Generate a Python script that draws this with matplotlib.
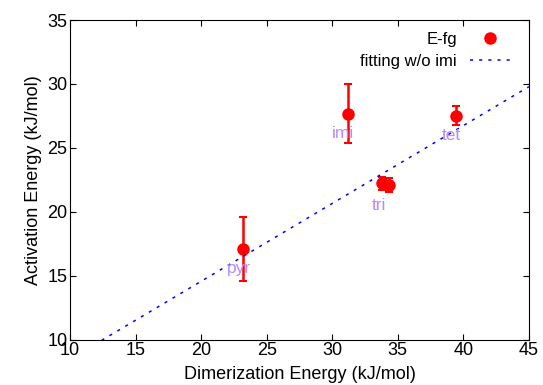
import numpy as np
import matplotlib.pyplot as plt

plt.rcParams['font.family'] = ['Liberation Sans', 'DejaVu Sans']

# measured points (kJ/mol)
dimer = [23.17, 31.2, 33.78, 34.33, 39.42]
activ = [17.09, 27.68, 22.23, 22.07, 27.52]
err = [2.5, 2.33, 0.5, 0.55, 0.76]

names = ['pyr', 'imi', 'tri', 'tet']
name_x = [22.85, 30.8, 33.55, 39.05]
name_y = [15.55, 26.15, 20.45, 25.95]

# linear fit without imi
slope = 0.609
intercept = 2.38
fit_x = np.array([10, 45])

fig = plt.figure(figsize=(5.43, 3.85), dpi=100)
ax = fig.add_axes([0.129, 0.118, 0.845, 0.83])

ax.errorbar(dimer, activ, yerr=err, fmt='none', ecolor='red', lw=1.8,
            capsize=3, capthick=1.5)
pts, = ax.plot(dimer, activ, 'o', color='red', ms=8, label='E-fg')
fit, = ax.plot(fit_x, slope * fit_x + intercept, color='blue', lw=1.1,
               linestyle=(0, (2, 4)), label='fitting w/o imi')

for i in range(len(names)):
    ax.text(name_x[i], name_y[i], names[i], color='#b58aff', fontsize=12.5,
            ha='center', va='center')

ax.set_xlim(10, 45)
ax.set_ylim(10, 35)
ax.set_xticks(np.arange(10, 46, 5))
ax.set_yticks(np.arange(10, 36, 5))
ax.tick_params(direction='in', top=True, right=True, length=4, labelsize=13, pad=2)
for s in ax.spines.values():
    s.set_linewidth(0.8)
ax.set_xlabel('Dimerization Energy (kJ/mol)', fontsize=13, labelpad=5)
ax.set_ylabel('Activation Energy (kJ/mol)', fontsize=13, labelpad=4)

ax.legend(handles=[pts, fit], loc='upper right', frameon=False, markerfirst=False,
          fontsize=12, handlelength=2.4, borderaxespad=0.3, labelspacing=0.45,
          bbox_to_anchor=(0.985, 1.0))

plt.savefig('out.png')
